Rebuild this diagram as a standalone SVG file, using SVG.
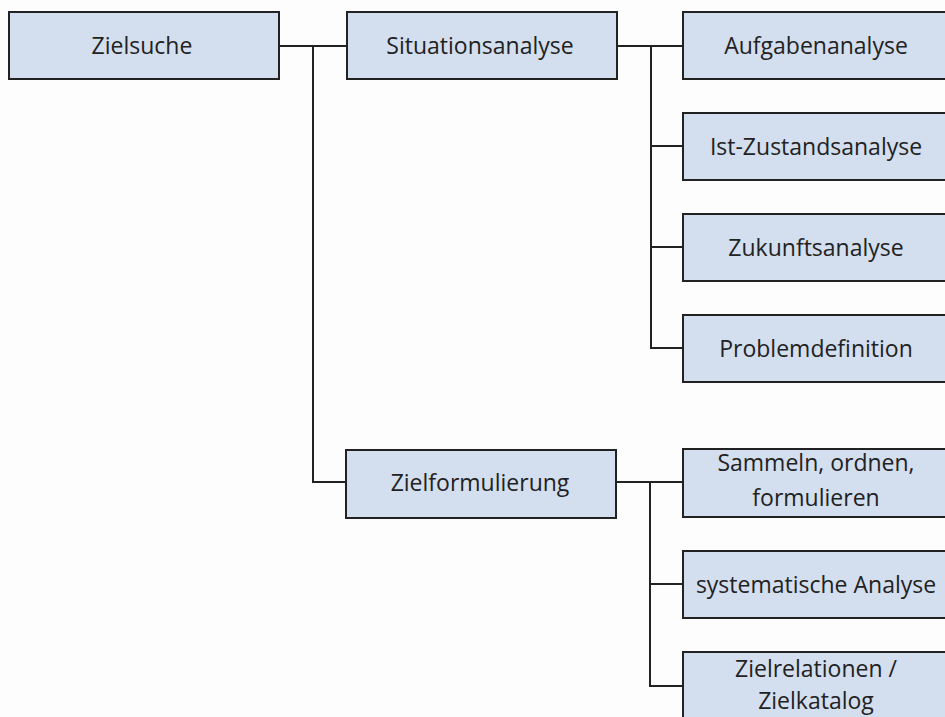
<svg xmlns="http://www.w3.org/2000/svg" width="945" height="717" viewBox="0 0 945 717">
<style>
.box{fill:#d3deef;stroke:#222;stroke-width:2}
.t{font-family:"Open Sans","Noto Sans","Liberation Sans",sans-serif;font-size:23px;fill:#222;text-anchor:middle}
.c{fill:none;stroke:#222;stroke-width:2}
</style>
<rect width="945" height="717" fill="#fdfdfd"/>
<g id="connectors">
<path class="c" d="M279 46H347M313 46V482H346"/>
<path class="c" d="M617 46H683M651 46V348H683M651 146H683M651 247H683"/>
<path class="c" d="M616 482H683M650 482V686H683M650 584H683"/>
</g>
<g id="zielsuche"><rect class="box" x="9" y="12" width="270" height="67"/><text class="t" x="142" y="54">Zielsuche</text></g>
<g id="situationsanalyse"><rect class="box" x="347" y="12" width="270" height="67"/><text class="t" x="480" y="54">Situationsanalyse</text></g>
<g id="aufgabenanalyse"><rect class="box" x="683" y="12" width="270" height="67"/><text class="t" x="816" y="54">Aufgabenanalyse</text></g>
<g id="ist-zustandsanalyse"><rect class="box" x="683" y="113" width="270" height="67"/><text class="t" x="816" y="155">Ist-Zustandsanalyse</text></g>
<g id="zukunftsanalyse"><rect class="box" x="683" y="214" width="270" height="67"/><text class="t" x="816" y="256">Zukunftsanalyse</text></g>
<g id="problemdefinition"><rect class="box" x="683" y="315" width="270" height="67"/><text class="t" x="816" y="357">Problemdefinition</text></g>
<g id="zielformulierung"><rect class="box" x="346" y="450" width="270" height="68"/><text class="t" x="480" y="491">Zielformulierung</text></g>
<g id="sammeln"><rect class="box" x="683" y="449" width="270" height="68"/><text class="t" x="816" y="471">Sammeln, ordnen,</text><text class="t" x="816" y="506">formulieren</text></g>
<g id="systematische-analyse"><rect class="box" x="683" y="551" width="270" height="67"/><text class="t" x="816" y="593">systematische Analyse</text></g>
<g id="zielrelationen"><rect class="box" x="683" y="652" width="270" height="80"/><text class="t" x="816" y="677">Zielrelationen /</text><text class="t" x="816" y="709">Zielkatalog</text></g>
</svg>
